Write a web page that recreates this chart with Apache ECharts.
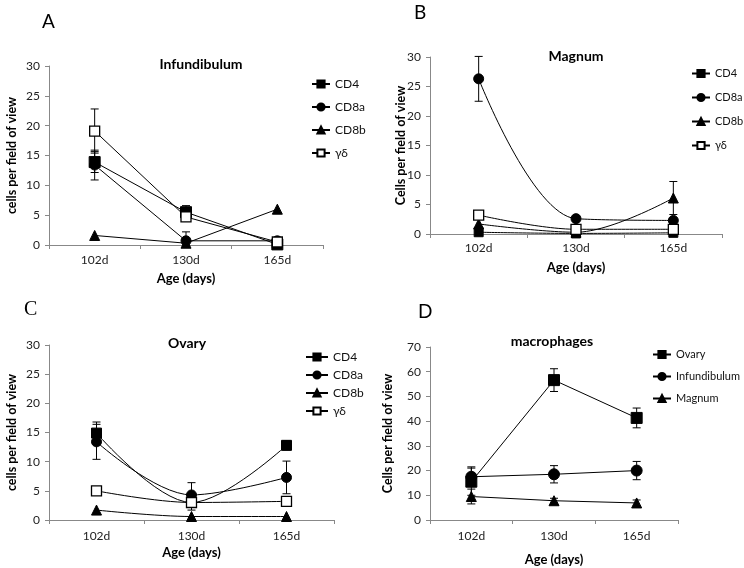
<!DOCTYPE html>
<html>
<head>
<meta charset="utf-8">
<script src="https://cdn.jsdelivr.net/npm/echarts@6/dist/echarts.min.js"></script>
<style>
html,body{margin:0;padding:0;background:#fff;}
#wrap{position:relative;width:744px;height:568px;background:#fff;}
.p{position:absolute;width:372px;height:284px;}
</style>
</head>
<body>
<div id="wrap">
  <div class="p" id="pB" style="left:372px;top:0"></div>
  <div class="p" id="pC" style="left:0;top:284px"></div>
  <div class="p" id="pD" style="left:372px;top:284px"></div>
  <div class="p" id="pA" style="left:0;top:0;height:296px"></div>
</div>
<script>
// ---------- DATA ----------
const categories = ['102d', '130d', '165d'];
const tcellNames = ['CD4', 'CD8a', 'CD8b', 'γδ'];
const macroNames = ['Ovary', 'Infundibulum', 'Magnum'];

// Panel A: Infundibulum
const A_CD4 = [13.9, 5.5, 0.1];
const A_CD4_err = [1.75, 1.1, null];
const A_CD8a = [13.4, 0.7, 0.7];
const A_CD8a_err = [2.5, 1.5, null];
const A_CD8b = [1.6, 0.3, 6.0];
const A_CD8b_err = [null, null, null];
const A_gd = [19.1, 4.7, 0.5];
const A_gd_err = [3.7, null, null];

// Panel B: Magnum
const B_CD4 = [0.3, 0.1, 0.2];
const B_CD4_err = [null, null, null];
const B_CD8a = [26.3, 2.6, 2.3];
const B_CD8a_err = [3.8, null, null];
const B_CD8b = [1.7, 0.3, 6.1];
const B_CD8b_err = [null, null, 2.8];
const B_gd = [3.2, 0.8, 0.8];
const B_gd_err = [0.5, null, null];

// Panel C: Ovary
const C_CD4 = [14.9, 3.0, 12.8];
const C_CD4_err = [1.9, null, 0.8];
const C_CD8a = [13.4, 4.3, 7.3];
const C_CD8a_err = [3.0, 2.1, 2.8];
const C_CD8b = [1.7, 0.6, 0.6];
const C_CD8b_err = [null, null, null];
const C_gd = [5.0, 3.0, 3.2];
const C_gd_err = [null, 1.3, null];

// Panel D: macrophages
const D_Ovary = [15.5, 56.6, 41.3];
const D_Ovary_err = [5.5, 4.6, 4.0];
const D_Inf = [17.5, 18.5, 20.0];
const D_Inf_err = [4.0, 3.5, 3.7];
const D_Mag = [9.5, 7.8, 6.9];
const D_Mag_err = [3.0, 1.0, 1.2];

// ---------- RENDERING ----------
const FONT = 'Lato, "Open Sans", sans-serif';
const symbols = {
  square: {symbol: 'rect', itemStyle: {color: '#000', borderColor: '#000', borderWidth: 1}},
  circle: {symbol: 'circle', itemStyle: {color: '#000', borderColor: '#000', borderWidth: 1}},
  tri: {symbol: 'triangle', itemStyle: {color: '#000', borderColor: '#000', borderWidth: 1}},
  open: {symbol: 'rect', itemStyle: {color: '#fff', borderColor: '#000', borderWidth: 1.3}}
};

function lineSeries(name, vals, sym, size, smooth) {
  return {
    type: 'line', name: name, data: vals, smooth: smooth ? 0.35 : false,
    symbol: symbols[sym].symbol, symbolSize: size,
    itemStyle: symbols[sym].itemStyle,
    lineStyle: {color: '#000', width: 1},
    z: 3, animation: false
  };
}

function errSeries(vals, errs) {
  const data = [];
  vals.forEach((v, i) => {
    if (errs[i] != null) data.push([i, Math.max(0, v - errs[i]), v + errs[i]]);
  });
  return {
    type: 'custom', data: data, z: 2, animation: false, silent: true,
    encode: {x: 0, y: [1, 2]},
    renderItem: function (params, api) {
      const x = api.value(0);
      const lo = api.coord([x, api.value(1)]);
      const hi = api.coord([x, api.value(2)]);
      const w = 4;
      const st = {stroke: '#000', lineWidth: 1};
      return {type: 'group', children: [
        {type: 'line', shape: {x1: lo[0], y1: lo[1], x2: hi[0], y2: hi[1]}, style: st},
        {type: 'line', shape: {x1: hi[0] - w, y1: hi[1], x2: hi[0] + w, y2: hi[1]}, style: st},
        {type: 'line', shape: {x1: lo[0] - w, y1: lo[1], x2: lo[0] + w, y2: lo[1]}, style: st}
      ]};
    }
  };
}

function makePanel(id, cfg) {
  const chart = echarts.init(document.getElementById(id), null, {renderer: 'canvas'});
  const series = [];
  cfg.lines.forEach(l => {
    series.push(errSeries(l.vals, l.errs));
  });
  cfg.lines.forEach(l => {
    series.push(lineSeries(l.name, l.vals, l.sym, l.size, cfg.smooth));
  });
  chart.setOption({
    animation: false,
    backgroundColor: 'transparent',
    textStyle: {fontFamily: FONT},
    title: {
      text: cfg.title, left: cfg.titleX, top: cfg.titleY, textAlign: 'center',
      textStyle: {fontFamily: FONT, fontSize: 14, fontWeight: 'bold', color: '#000'}
    },
    graphic: [{
      type: 'text', left: cfg.letterX, top: cfg.letterY,
      style: {text: cfg.letter, font: cfg.letterFont, fill: '#000'}
    }],
    legend: {
      orient: 'vertical', left: cfg.legX, top: cfg.legY, padding: 0,
      itemWidth: cfg.legW, itemHeight: 9, itemGap: cfg.legGap,
      data: cfg.lines.map(l => l.name),
      textStyle: {fontFamily: FONT, fontSize: cfg.legFont, color: '#111'},
      selectedMode: false
    },
    grid: {left: cfg.grid[0], top: cfg.grid[1], right: cfg.grid[2], bottom: cfg.grid[3],
           containLabel: false, outerBoundsMode: 'none'},
    xAxis: {
      type: 'category', data: categories, boundaryGap: true,
      name: 'Age (days)', nameLocation: 'middle', nameGap: cfg.xNameGap, nameMoveOverlap: false,
      nameTextStyle: {fontFamily: FONT, fontSize: 13, fontWeight: 'bold', color: '#000'},
      axisLine: {lineStyle: {color: '#888', width: 1}},
      axisTick: {show: true, alignWithLabel: false, length: 4, lineStyle: {color: '#888'}},
      axisLabel: {fontFamily: FONT, fontSize: 12, color: '#222', margin: cfg.xMargin},
      splitLine: {show: false}
    },
    yAxis: {
      type: 'value', min: 0, max: cfg.yMax, interval: cfg.yInt,
      name: cfg.yName, nameLocation: 'middle', nameRotate: 90, nameGap: cfg.yNameGap, nameMoveOverlap: false,
      nameTextStyle: {fontFamily: FONT, fontSize: 12.5, fontWeight: 'bold', color: '#000'},
      axisLine: {show: true, lineStyle: {color: '#888', width: 1}},
      axisTick: {show: true, length: 4, lineStyle: {color: '#888'}},
      axisLabel: {fontFamily: FONT, fontSize: 12, color: '#222', margin: 9},
      splitLine: {show: false}
    },
    series: series
  });
}

makePanel('pA', {
  title: 'Infundibulum', titleX: 196, titleY: 52,
  letter: 'A', letterX: 42, letterY: 12, letterFont: '19px ' + FONT,
  legX: 311, legY: 78, legW: 18, legGap: 11, legFont: 12,
  grid: [49, 66, 49, 51], yMax: 30, yInt: 5,
  yName: 'cells per field of view', yNameGap: 31, xNameGap: 27, xMargin: 9,
  smooth: false,
  lines: [
    {name: 'CD4', vals: A_CD4, errs: A_CD4_err, sym: 'square', size: 11},
    {name: 'CD8a', vals: A_CD8a, errs: A_CD8a_err, sym: 'circle', size: 10},
    {name: 'CD8b', vals: A_CD8b, errs: A_CD8b_err, sym: 'tri', size: 10},
    {name: 'γδ', vals: A_gd, errs: A_gd_err, sym: 'open', size: 10}
  ]
});

makePanel('pB', {
  title: 'Magnum', titleX: 199, titleY: 44,
  letter: 'B', letterX: 42, letterY: 3, letterFont: '19px ' + FONT,
  legX: 319, legY: 68, legW: 18, legGap: 13, legFont: 11,
  grid: [58, 57, 22, 50], yMax: 30, yInt: 5,
  yName: 'Cells per field of view', yNameGap: 23, xNameGap: 27, xMargin: 8,
  smooth: true,
  lines: [
    {name: 'CD4', vals: B_CD4, errs: B_CD4_err, sym: 'square', size: 9},
    {name: 'CD8a', vals: B_CD8a, errs: B_CD8a_err, sym: 'circle', size: 10},
    {name: 'CD8b', vals: B_CD8b, errs: B_CD8b_err, sym: 'tri', size: 10},
    {name: 'γδ', vals: B_gd, errs: B_gd_err, sym: 'open', size: 10}
  ]
});

makePanel('pC', {
  title: 'Ovary', titleX: 182, titleY: 47,
  letter: 'C', letterX: 24, letterY: 16, letterFont: '20px "Liberation Serif", serif',
  legX: 305, legY: 67, legW: 22, legGap: 6, legFont: 12,
  grid: [49, 61, 38, 48], yMax: 30, yInt: 5,
  yName: 'cells per field of view', yNameGap: 31, xNameGap: 26, xMargin: 10,
  smooth: true,
  lines: [
    {name: 'CD4', vals: C_CD4, errs: C_CD4_err, sym: 'square', size: 10},
    {name: 'CD8a', vals: C_CD8a, errs: C_CD8a_err, sym: 'circle', size: 10},
    {name: 'CD8b', vals: C_CD8b, errs: C_CD8b_err, sym: 'tri', size: 10},
    {name: 'γδ', vals: C_gd, errs: C_gd_err, sym: 'open', size: 10}
  ]
});

makePanel('pD', {
  title: 'macrophages', titleX: 175, titleY: 45,
  letter: 'D', letterX: 46, letterY: 18, letterFont: '19px ' + FONT,
  legX: 280, legY: 65, legW: 18, legGap: 11, legFont: 11,
  grid: [58, 63, 66, 48], yMax: 70, yInt: 10,
  yName: 'Cells per field of view', yNameGap: 36, xNameGap: 33, xMargin: 10,
  smooth: false,
  lines: [
    {name: 'Ovary', vals: D_Ovary, errs: D_Ovary_err, sym: 'square', size: 11},
    {name: 'Infundibulum', vals: D_Inf, errs: D_Inf_err, sym: 'circle', size: 11},
    {name: 'Magnum', vals: D_Mag, errs: D_Mag_err, sym: 'tri', size: 10}
  ]
});
</script>
</body>
</html>
